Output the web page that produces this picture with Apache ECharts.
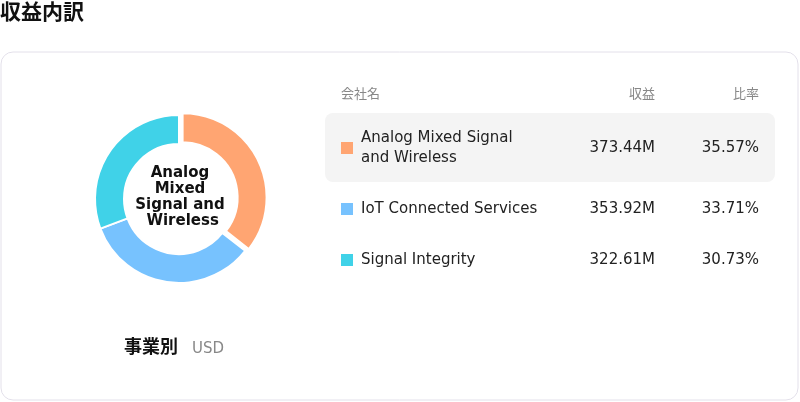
<!DOCTYPE html>
<html><head><meta charset="utf-8">
<script src="https://cdn.jsdelivr.net/npm/echarts@6/dist/echarts.min.js"></script>
<style>body{margin:0;background:#fff}#c{width:800px;height:402px}</style>
</head><body><div id="c"></div>
<script>
var names = ['Analog Mixed Signal\nand Wireless', 'IoT Connected Services', 'Signal Integrity'];
var revenue = [373.44, 353.92, 322.61];
var shares = [35.57, 33.71, 30.73];
var colors = ['#FFA572', '#77C2FE', '#40D2E8'];
var headers = ['会社名', '収益', '比率'];

var font = 'DejaVu Sans, Noto Sans CJK JP, sans-serif';
var graphic = [
	{ type: 'text', left: 0, top: 3, style: { text: '収益内訳', font: 'bold 21px ' + font, fill: '#111' } },
	{ type: 'rect', shape: { x: 1, y: 52, width: 797, height: 348, r: 12 }, style: { fill: 'none', stroke: '#e3e0ea', lineWidth: 1 }, z: -1 },
	{ type: 'text', x: 124, y: 339, style: { text: '事業別', font: 'bold 18px ' + font, fill: '#111' } },
	{ type: 'text', x: 192, y: 342, style: { text: 'USD', font: '15px ' + font, fill: '#888' } },
	{ type: 'text', x: 341, y: 88, style: { text: headers[0], font: '13px ' + font, fill: '#888' } },
	{ type: 'text', x: 655, y: 88, style: { text: headers[1], font: '13px ' + font, fill: '#888', align: 'right' } },
	{ type: 'text', x: 759, y: 88, style: { text: headers[2], font: '13px ' + font, fill: '#888', align: 'right' } },
	{ type: 'rect', shape: { x: 325, y: 113, width: 450, height: 69, r: 8 }, style: { fill: '#f4f4f4' }, z: -1 }
];
var rowY = [148, 209, 260];
names.forEach(function (n, i) {
	var y = rowY[i];
	graphic.push({ type: 'rect', shape: { x: 341, y: y - 6, width: 12, height: 12 }, style: { fill: colors[i] } });
	graphic.push({ type: 'text', x: 361, y: y, style: { text: n, font: '15px ' + font, fill: '#222', verticalAlign: 'middle', lineHeight: 20 } });
	graphic.push({ type: 'text', x: 655, y: y, style: { text: revenue[i].toFixed(2) + 'M', font: '15px ' + font, fill: '#222', align: 'right', verticalAlign: 'middle' } });
	graphic.push({ type: 'text', x: 759, y: y, style: { text: shares[i].toFixed(2) + '%', font: '15px ' + font, fill: '#222', align: 'right', verticalAlign: 'middle' } });
});

var chart = echarts.init(document.getElementById('c'));
chart.setOption({
	animation: false,
	graphic: graphic,
	series: [{
		type: 'pie',
		center: [179, 199],
		radius: [55, 84],
		startAngle: 90,
		selectedMode: 'single',
		selectedOffset: 4,
		itemStyle: { borderColor: '#fff', borderWidth: 2 },
		label: {
			show: true, position: 'center', width: 104, overflow: 'break',
			formatter: function () { return names[0].replace('\n', ' '); },
			fontFamily: font, fontWeight: 'bold', fontSize: 15, lineHeight: 16, color: '#111'
		},
		labelLine: { show: false },
		data: names.map(function (n, i) {
			return { name: n, value: revenue[i], selected: i === 0, itemStyle: { color: colors[i] } };
		})
	}]
});
</script>
</body></html>
